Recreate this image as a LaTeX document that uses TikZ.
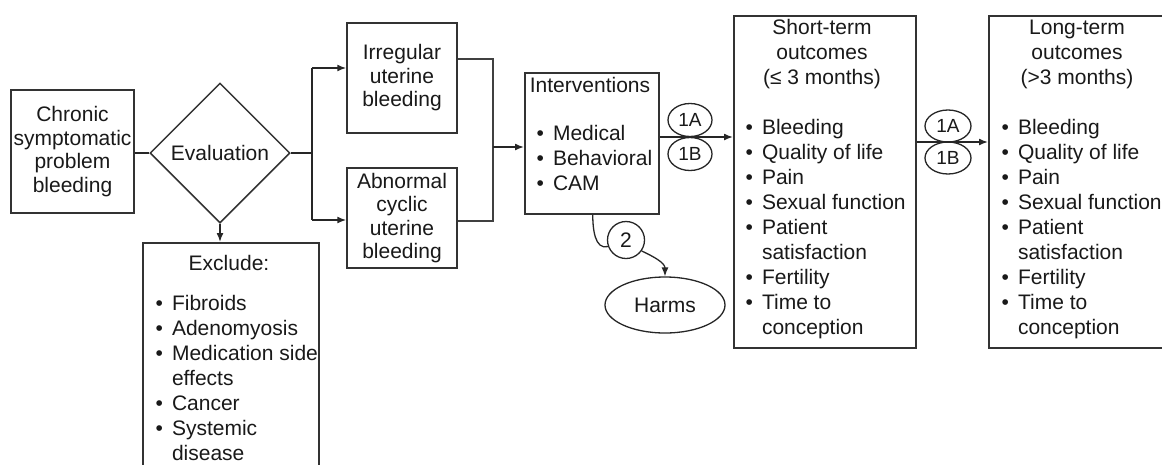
\documentclass[tikz,border=0pt]{standalone}
\usepackage{fontspec}
\setmainfont{Liberation Sans}
\usetikzlibrary{shapes.geometric,arrows.meta}
\newcommand{\bul}{\makebox[16.5pt][l]{\textbullet}}
\newcommand{\ind}{\hspace*{16.5pt}}
\begin{document}
\begin{tikzpicture}[x=1pt,y=-1pt,
  every node/.style={font=\fontsize{21}{25}\selectfont, text=black!90},
  box/.style={draw=black!80, line width=1.5pt, inner sep=0pt},
  ctext/.style={font=\fontsize{21}{23.5}\selectfont, align=center},
  conn/.style={draw=black!85, line width=1.5pt},
  thinconn/.style={draw=black!75, line width=1.1pt},
  arr/.style={conn, -{Latex[length=9pt,width=7pt]}},
  lbl/.style={draw=black!85, line width=1.3pt, ellipse, inner sep=0pt, minimum width=44pt, minimum height=33pt, font=\fontsize{19}{22}\selectfont}]
\useasboundingbox (0,0) rectangle (1162,464);
\fill[white] (0,0) rectangle (1162,464);

% boxes
\node[box, ctext, minimum width=123pt, minimum height=123pt] (chronic) at (72.5,151.5) {Chronic\\symptomatic\\problem\\bleeding};
\node[box, diamond, minimum width=140pt, minimum height=140pt] (eval) at (220,153) {Evaluation};
\node[box, ctext, minimum width=110pt, minimum height=110pt] (irr) at (402,78) {Irregular\\uterine\\bleeding};
\node[box, ctext, minimum width=110pt, minimum height=100pt] (abn) at (402,218) {Abnormal\\cyclic\\uterine\\bleeding};

\node[box, minimum width=176pt, minimum height=260pt, anchor=north west] (excl) at (142,242) {};
\node[anchor=base] (exclt) at (229,270) {Exclude:};
\node[anchor=base west, align=left] (excll) at (152,460) {\bul Fibroids\\\bul Adenomyosis\\\bul Medication side\\\ind effects\\\bul Cancer\\\bul Systemic\\\ind disease};

\node[box, minimum width=134pt, minimum height=141pt, anchor=north west] (interv) at (524,72) {};
\node[anchor=base] (intervt) at (590,92) {Interventions};
\node[anchor=base west, align=left] (intervl) at (533,190) {\bul Medical\\\bul Behavioral\\\bul CAM};

\node[box, minimum width=182pt, minimum height=332pt, anchor=north west] (st) at (733,15) {};
\node[anchor=base, align=center] (stt) at (822,84) {Short-term\\outcomes\\(≤ 3 months)};
\node[anchor=base west, align=left] (stl) at (742,334) {\bul Bleeding\\\bul Quality of life\\\bul Pain\\\bul Sexual function\\\bul Patient\\\ind satisfaction\\\bul Fertility\\\bul Time to\\\ind conception};

\node[box, minimum width=200pt, minimum height=332pt, anchor=north west] (lt) at (988,15) {};
\node[anchor=base, align=center] (ltt) at (1077,84) {Long-term\\outcomes\\(>3 months)};
\node[anchor=base west, align=left] (ltl) at (998,334) {\bul Bleeding\\\bul Quality of life\\\bul Pain\\\bul Sexual function\\\bul Patient\\\ind satisfaction\\\bul Fertility\\\bul Time to\\\ind conception};

\node[draw=black!85, line width=1.3pt, ellipse, inner sep=0pt, minimum width=120pt, minimum height=56pt] (harms) at (665,305) {Harms};

% connectors
\draw[conn] (eval.west -| chronic.east) -- (eval.west);
\coordinate (br) at (312,153);
\coordinate (bt) at (312,68);
\coordinate (bb) at (312,220);
\draw[conn] (eval.east) -- (br);
\draw[conn] (bt) -- (bb);
\draw[arr] (bt) -- (bt -| irr.west);
\draw[arr] (bb) -- (bb -| abn.west);
\draw[arr] (eval.south) -- (excl.north -| eval.south);

\coordinate (jt) at (493,59);
\coordinate (jb) at (493,221);
\coordinate (jm) at (493,147);
\draw[thinconn] (irr.east |- jt) -- (jt) -- (jb) -- (abn.east |- jb);
\draw[arr] (jm) -- (jm -| interv.west);

\coordinate (m1) at (690,137);
\draw[arr] (m1 -| interv.east) -- (m1 -| st.west);
\node[lbl] (c1a) at (690,120) {1A};
\node[lbl] (c1b) at (690,154) {1B};

\coordinate (m2) at (950,142);
\draw[arr] (m2 -| st.east) -- (m2 -| lt.west);
\node[lbl, minimum width=46pt, minimum height=32pt] (c2a) at (948,126) {1A};
\node[lbl, minimum width=46pt, minimum height=32pt] (c2b) at (948,158) {1B};

\node[draw=black!85, line width=1.3pt, circle, inner sep=0pt, minimum size=37pt] (c2) at (626,240) {2};
\draw[conn, line width=1.3pt] ([xshift=1pt]interv.south) to[out=-90, in=195] (c2.200);
\draw[conn, line width=1.3pt, -{Latex[length=9pt,width=7pt]}] (c2.-35) to[out=-25, in=90] (harms.north);
\end{tikzpicture}
\end{document}
